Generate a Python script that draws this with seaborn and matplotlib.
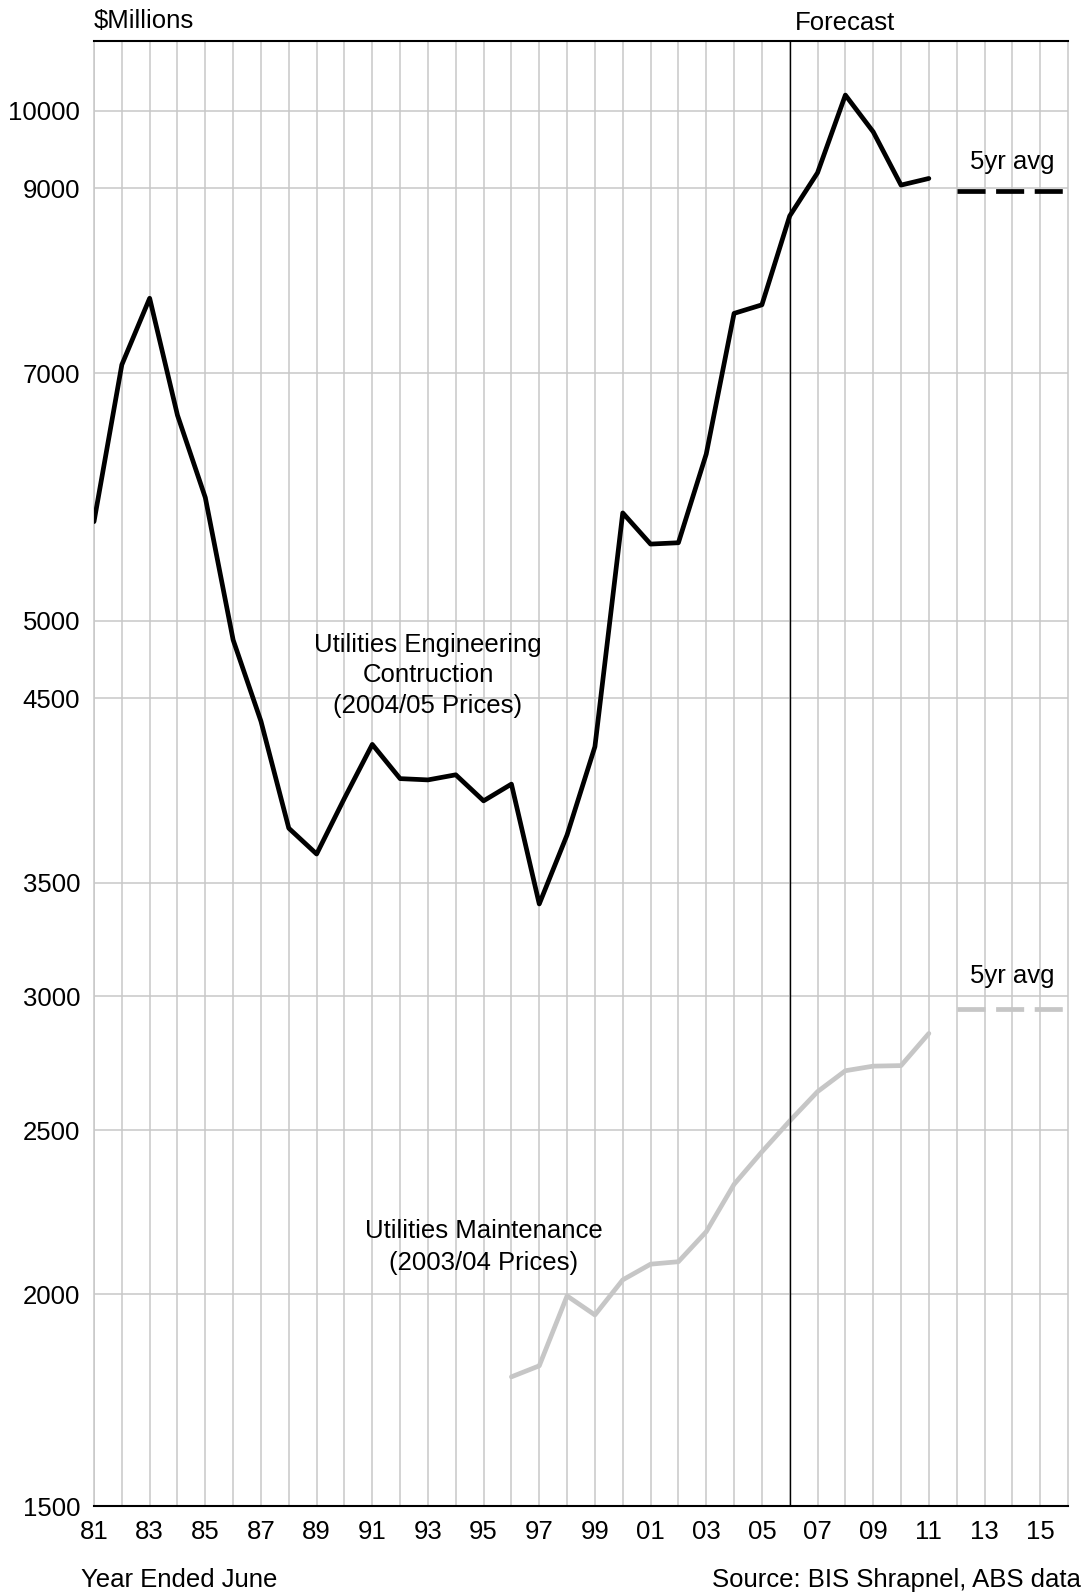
import matplotlib
matplotlib.use("Agg")
import numpy as np
import pandas as pd
import seaborn as sns
from matplotlib import pyplot as plt
from matplotlib.ticker import FixedLocator, NullLocator

# values ($ millions)
eng_years = list(range(1981, 2012))
eng_values = [5720, 7080, 7750, 6610, 5910, 4870, 4360, 3770, 3640, 3927,
              4225, 4033, 4026, 4054, 3913, 4003, 3401, 3736, 4212, 5788,
              5548, 5558, 6270, 7592, 7681, 8668, 9192, 10216, 9718, 9039,
              9121]

maint_years = list(range(1996, 2012))
maint_values = [1788, 1815, 1996, 1945, 2040, 2084, 2091, 2178, 2323, 2428,
                2532, 2635, 2711, 2728, 2730, 2852]

avg_years = [2012, 2016]
eng_avg = 8970
maint_avg = 2950

y_ticks = [1500, 2000, 2500, 3000, 3500, 4500, 5000, 7000, 9000, 10000]
x_label_years = list(range(1981, 2016, 2))
forecast_year = 2006

BLACK = "#000000"
LIGHT = "#c6c6c6"
GRID = "#c8c8c8"
FS = 18.5
LW = 3.4

sns.set_style("white")
plt.rcParams["font.family"] = ["Liberation Sans", "DejaVu Sans"]
plt.rcParams["text.color"] = BLACK
plt.rcParams["xtick.color"] = BLACK
plt.rcParams["ytick.color"] = BLACK

eng_df = pd.DataFrame({"year": eng_years, "value": eng_values})
maint_df = pd.DataFrame({"year": maint_years, "value": maint_values})

fig = plt.figure(figsize=(10.88, 15.94), dpi=100)
ax = fig.add_axes([94 / 1088, 88 / 1594, 974 / 1088, 1465.3 / 1594])

ax.set_yscale("log")
ax.set_xlim(1981, 2016)
ax.set_ylim(1500, 11000)

sns.lineplot(data=eng_df, x="year", y="value", ax=ax, color=BLACK,
             linewidth=LW, zorder=4)
sns.lineplot(data=maint_df, x="year", y="value", ax=ax, color=LIGHT,
             linewidth=LW, zorder=3)

# five year averages (dashed)
dash = (0, (20.2 / LW, 7.6 / LW))
sns.lineplot(x=avg_years, y=[eng_avg] * 2, ax=ax, color=BLACK,
             linewidth=LW, linestyle=dash, zorder=4)
sns.lineplot(x=avg_years, y=[maint_avg] * 2, ax=ax, color=LIGHT,
             linewidth=LW, linestyle=dash, zorder=3)

ax.axvline(forecast_year, color=BLACK, linewidth=1.0, zorder=5)

# axes / ticks
ax.yaxis.set_major_locator(FixedLocator(y_ticks))
ax.yaxis.set_minor_locator(NullLocator())
ax.set_yticklabels([str(v) for v in y_ticks])
ax.xaxis.set_major_locator(FixedLocator(x_label_years))
ax.xaxis.set_minor_locator(FixedLocator(list(range(1981, 2016))))
ax.set_xticklabels([f"{y % 100:02d}" for y in x_label_years])

ax.tick_params(axis="x", which="major", direction="in", length=7, width=1,
               color=BLACK, labelcolor=BLACK, pad=10, labelsize=FS)
ax.tick_params(axis="x", which="minor", length=0)
ax.tick_params(axis="y", which="major", length=0, pad=10, labelsize=FS,
               labelcolor=BLACK)

ax.grid(True, axis="x", which="both", color=GRID, linewidth=1.1, zorder=0)
ax.grid(True, axis="y", which="major", color=GRID, linewidth=1.1, zorder=0)
ax.set_axisbelow(True)

ax.set_xlabel("")
ax.set_ylabel("")

for side in ["top", "bottom"]:
    ax.spines[side].set_color(BLACK)
    ax.spines[side].set_linewidth(1.5)
for side in ["left", "right"]:
    ax.spines[side].set_color(GRID)
    ax.spines[side].set_linewidth(1.1)

# annotations
ax.text(0, 1.0134, "$Millions", transform=ax.transAxes, ha="left",
        va="center", fontsize=FS)
ax.text(2008, 1.0121, "Forecast", transform=ax.get_xaxis_transform(),
        ha="center", va="center", fontsize=FS)
ax.text(2014, 9330, "5yr avg", ha="center", va="center", fontsize=FS)
ax.text(2014, 3085, "5yr avg", ha="center", va="center", fontsize=FS)
ax.text(1993, 4642, "Utilities Engineering\nContruction\n(2004/05 Prices)",
        ha="center", va="center", fontsize=FS, linespacing=1.34)
ax.text(1995, 2133, "Utilities Maintenance\n(2003/04 Prices)",
        ha="center", va="center", fontsize=FS, linespacing=1.4)

fig.text(81 / 1088, 1 - 1580 / 1594, "Year Ended June", ha="left",
         va="center", fontsize=FS)
fig.text(1081 / 1088, 1 - 1580 / 1594, "Source: BIS Shrapnel, ABS data",
         ha="right", va="center", fontsize=FS)

fig.savefig("out.png", dpi=100)
